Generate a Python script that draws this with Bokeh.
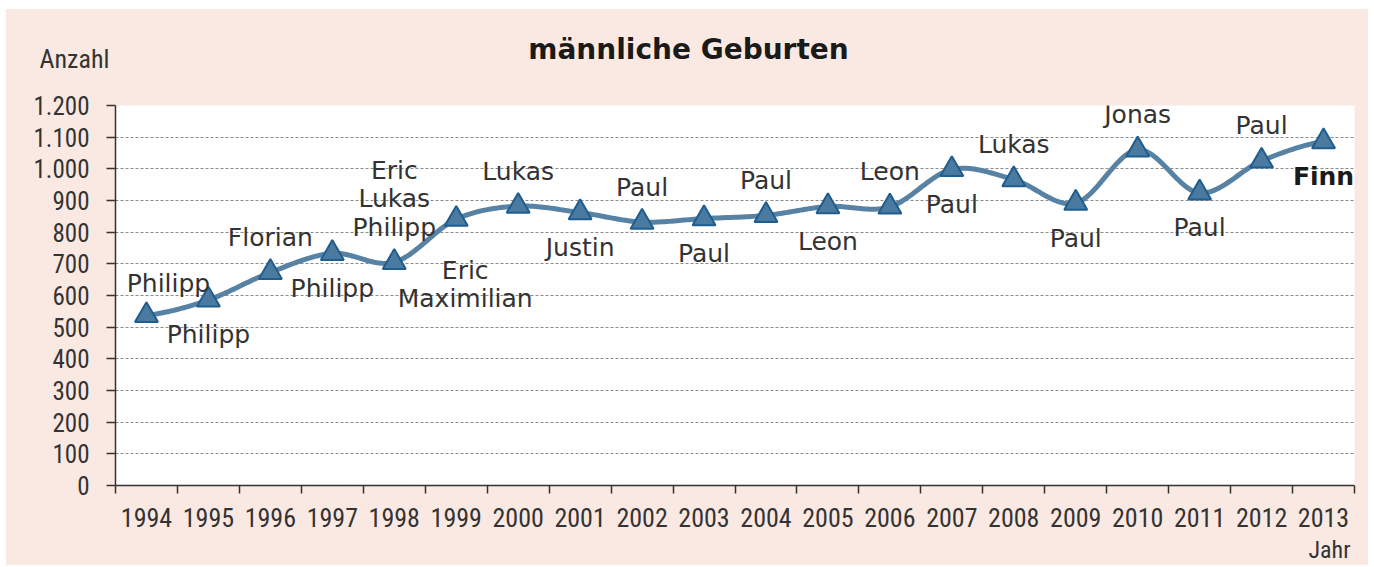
import numpy as np
from bokeh.plotting import figure
from bokeh.layouts import column, row
from bokeh.models import FixedTicker, ColumnDataSource, Range1d, Spacer
from bokeh.core.properties import value
from bokeh.embed import file_html
from bokeh.resources import INLINE

# ---------------- data ----------------
years = ["1994", "1995", "1996", "1997", "1998", "1999", "2000", "2001", "2002", "2003",
         "2004", "2005", "2006", "2007", "2008", "2009", "2010", "2011", "2012", "2013"]
counts = [537, 586, 673, 733, 705, 841, 882, 862, 832, 843,
          853, 881, 880, 998, 966, 892, 1060, 924, 1025, 1086]
top_names = [["Philipp"], ["Philipp"], ["Florian"], ["Philipp"], ["Eric", "Lukas", "Philipp"],
             ["Eric", "Maximilian"], ["Lukas"], ["Justin"], ["Paul"], ["Paul"],
             ["Paul"], ["Leon"], ["Leon"], ["Paul"], ["Lukas"],
             ["Paul"], ["Jonas"], ["Paul"], ["Paul"], ["Finn"]]
name_side = ["above", "below", "above", "below", "above", "below", "above", "below", "above", "below",
             "above", "below", "above", "below", "above", "below", "above", "below", "above", "below"]
y_ticks = [0, 100, 200, 300, 400, 500, 600, 700, 800, 900, 1000, 1100, 1200]
y_tick_labels = ["0", "100", "200", "300", "400", "500", "600", "700", "800", "900",
                 "1.000", "1.100", "1.200"]
title_text = "männliche Geburten"
y_title = "Anzahl"
x_title = "Jahr"

# ---------------- styling / geometry ----------------
PINK = "#fae9e2"
LINE_C = "#5882a3"
TRI_FILL = "#4a7aa0"
TRI_LINE = "#1f5d8f"
TXT = "#333333"
NARROW = "'Liberation Sans Narrow', 'Roboto Condensed', 'DejaVu Sans Condensed', 'Open Sans', sans-serif"
W = 1362
LEFT, RIGHT = 109, 14              # borders around the plotting frame
TOP_Y, HEAD_END, MAIN_END, BOT_Y = 9, 85, 533, 565   # page rows of the panel parts
FRAME_T, FRAME_B = 105, 485        # page rows of the frame
FRAME_L, FRAME_R = 115, 1354       # page columns of the frame


def strip(y_top, y_bot, with_axis=False):
    """A pink strip whose data units are page pixels."""
    f = figure(width=W, height=y_bot - y_top,
               x_range=Range1d(FRAME_L, FRAME_R), y_range=Range1d(y_bot, y_top),
               output_backend="svg", toolbar_location=None,
               x_axis_location=None, y_axis_location=("left" if with_axis else None),
               min_border_left=LEFT, min_border_right=RIGHT,
               min_border_top=0, min_border_bottom=0,
               border_fill_color=PINK, background_fill_color=PINK, outline_line_color=None)
    f.grid.visible = False
    return f


idx = np.arange(len(years), dtype=float)
vals = np.array(counts, dtype=float)

# smoothed line (Catmull-Rom through the data points)
sx, sy = [], []
n = len(idx)
for i in range(n - 1):
    p0 = vals[i - 1] if i > 0 else vals[i]
    p1 = vals[i]
    p2 = vals[i + 1]
    p3 = vals[i + 2] if i + 2 < n else vals[i + 1]
    for t in np.linspace(0, 1, 25, endpoint=(i == n - 2)):
        yy = 0.5 * (2 * p1 + (-p0 + p2) * t + (2 * p0 - 5 * p1 + 4 * p2 - p3) * t ** 2
                    + (-p0 + 3 * p1 - 3 * p2 + p3) * t ** 3)
        sx.append(idx[i] + t)
        sy.append(yy)

# ---------------- header (title + y axis title) ----------------
head = strip(TOP_Y, HEAD_END, with_axis=True)
head.text(x=[688], y=[49], text=[title_text], text_font=value("DejaVu Sans"),
          text_font_style="bold", text_font_size="28px", text_color="#1a1a1a",
          text_align="center", text_baseline="middle")
head.yaxis.ticker = FixedTicker(ticks=[58])
head.yaxis.major_label_overrides = {58: y_title}
head.yaxis.axis_line_color = None
head.yaxis.major_tick_line_color = None
head.yaxis.minor_tick_line_color = None
head.yaxis.major_tick_out = 0
head.yaxis.major_tick_in = 0
head.yaxis.major_label_standoff = 6
head.yaxis.major_label_text_font = NARROW
head.yaxis.major_label_text_font_size = "26px"
head.yaxis.major_label_text_color = TXT

# ---------------- main chart ----------------
p = figure(width=W, height=MAIN_END - HEAD_END,
           x_range=Range1d(-0.5, 19.5), y_range=Range1d(0, 1200),
           output_backend="svg", toolbar_location=None,
           min_border_left=LEFT, min_border_right=RIGHT,
           min_border_top=FRAME_T - HEAD_END, min_border_bottom=MAIN_END - FRAME_B,
           border_fill_color=PINK, background_fill_color="white",
           outline_line_color=None)

p.xgrid.visible = False
p.ygrid.ticker = FixedTicker(ticks=y_ticks)
p.ygrid.grid_line_color = "#8a8a8a"
p.ygrid.grid_line_dash = "3 2"
p.ygrid.grid_line_width = 1

# x axis: labels at centres, tick marks at category boundaries
p.xaxis.ticker = FixedTicker(ticks=list(idx), minor_ticks=[i - 0.5 for i in range(n + 1)])
p.xaxis.major_label_overrides = {i: years[i] for i in range(n)}
p.xaxis.major_tick_out = 0
p.xaxis.major_tick_in = 0
p.xaxis.minor_tick_out = 8
p.xaxis.minor_tick_in = 0
p.xaxis.minor_tick_line_color = "#333333"
p.xaxis.minor_tick_line_width = 1.5
p.xaxis.major_label_standoff = 14
p.xaxis.major_label_text_font = NARROW
p.xaxis.major_label_text_font_size = "26px"
p.xaxis.major_label_text_color = TXT
p.xaxis.axis_line_color = "#333333"
p.xaxis.axis_line_width = 1.5

# y axis
p.yaxis.ticker = FixedTicker(ticks=y_ticks)
p.yaxis.major_label_overrides = {v: s for v, s in zip(y_ticks, y_tick_labels)}
p.yaxis.major_tick_out = 9
p.yaxis.major_tick_in = 0
p.yaxis.minor_tick_line_color = None
p.yaxis.major_tick_line_color = "#333333"
p.yaxis.major_tick_line_width = 1.5
p.yaxis.major_label_standoff = 17
p.yaxis.major_label_text_font = NARROW
p.yaxis.major_label_text_font_size = "25px"
p.yaxis.major_label_text_color = TXT
p.yaxis.axis_line_color = "#333333"
p.yaxis.axis_line_width = 1.5

# series
p.line(sx, sy, line_color=LINE_C, line_width=5, line_join="round", line_cap="round")
p.scatter(idx, vals, marker="triangle", size=23, fill_color=TRI_FILL,
          line_color=TRI_LINE, line_width=2)

# name labels
nudge = {0: (22, 3), 5: (9, 16)}
lx, ly, lt, ldx, ldy, lstyle, lcol = [], [], [], [], [], [], []
for i, names in enumerate(top_names):
    m = len(names)
    ndx, ndy = nudge.get(i, (0, 0))
    for k, nm in enumerate(names):
        if name_side[i] == "above":
            off = -(35 + (m - 1 - k) * 28.5)
        else:
            off = 35 + k * 28.5
        lx.append(idx[i])
        ly.append(vals[i])
        lt.append(nm)
        ldx.append(ndx)
        ldy.append(off + ndy)
        last = (i == n - 1)
        lstyle.append("bold" if last else "normal")
        lcol.append("#1a1a1a" if last else TXT)

src = ColumnDataSource(dict(x=lx, y=ly, text=lt, dx=ldx, dy=ldy, style=lstyle, color=lcol))
p.text(x="x", y="y", text="text", source=src, x_offset="dx", y_offset="dy",
       text_font=value("DejaVu Sans"), text_font_size="25px", text_font_style="style",
       text_align="center", text_baseline="middle", text_color="color")

# ---------------- footer (x axis title) ----------------
foot = strip(MAIN_END, BOT_Y)
foot.text(x=[1350], y=[549], text=[x_title], text_font=value(NARROW),
          text_font_size="24px", text_color=TXT, text_align="right", text_baseline="middle")

panel = column(head, p, foot, spacing=0, styles={"background-color": PINK})
layout = column(Spacer(height=TOP_Y), row(Spacer(width=6), panel, spacing=0), spacing=0)
open("out.html", "w").write(file_html(layout, INLINE))
